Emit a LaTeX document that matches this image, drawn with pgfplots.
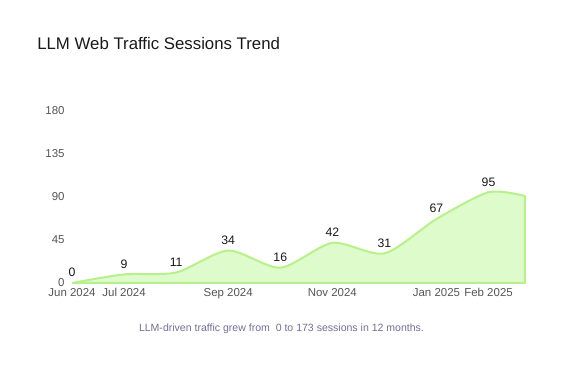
\documentclass[border=0pt]{standalone}
\usepackage{pgfplots}
\pgfplotsset{compat=1.18}
\usepackage{fontspec}
\setmainfont{Liberation Sans}
\definecolor{linegreen}{RGB}{184,240,140}
\definecolor{fillgreen}{RGB}{221,251,203}
\definecolor{ticktext}{RGB}{85,85,85}
\definecolor{captext}{RGB}{112,110,150}
\definecolor{titletext}{RGB}{25,25,25}
\begin{document}
\begin{tikzpicture}
\path[use as bounding box] (0,0) rectangle (423pt,278.25pt);
\begin{axis}[
  at={(54pt,66pt)}, anchor=origin,
  scale only axis, width=339.75pt, height=129pt,
  xmin=0, xmax=8.7, ymin=0, ymax=180,
  enlargelimits=false,
  axis line style={draw=none},
  tick style={draw=none},
  ytick={0,45,90,135,180},
  xtick={0,1,3,5,7,8},
  xticklabels={Jun 2024,Jul 2024,Sep 2024,Nov 2024,Jan 2025,Feb 2025},
  /pgf/number format/assume math mode=true,
  ticklabel style={font=\fontsize{8.6pt}{10pt}\selectfont, text=ticktext},
  yticklabel style={anchor=east, xshift=-2pt, yshift=0.5pt},
  xticklabel style={yshift=-0.5pt},
  clip=false,
]
\addplot[draw=linegreen, line width=1.5pt, fill=fillgreen, smooth, tension=0.45]
  coordinates {(0,0) (1,9) (2,11) (3,34) (4,16) (5,42) (6,31) (7,67) (8,95) (8.7,91)} \closedcycle;
\addplot[draw=none, mark=none, nodes near coords,
  every node near coord/.append style={font=\fontsize{9.2pt}{10pt}\selectfont, text=titletext, anchor=south, yshift=1pt}]
  coordinates {(0,0) (1,9) (2,11) (3,34) (4,16) (5,42) (6,31) (7,67) (8,95)};
\end{axis}
\node[anchor=west, text=titletext, font=\fontsize{12.6pt}{15pt}\selectfont, inner sep=0pt] at (27.75pt,246pt) {LLM Web Traffic Sessions Trend};
\node[text=captext, font=\fontsize{7.9pt}{9pt}\selectfont, inner sep=0pt] at (211.1pt,31.5pt) {LLM-driven traffic grew from\ \ 0 to 173 sessions in 12 months.};
\end{tikzpicture}
\end{document}
